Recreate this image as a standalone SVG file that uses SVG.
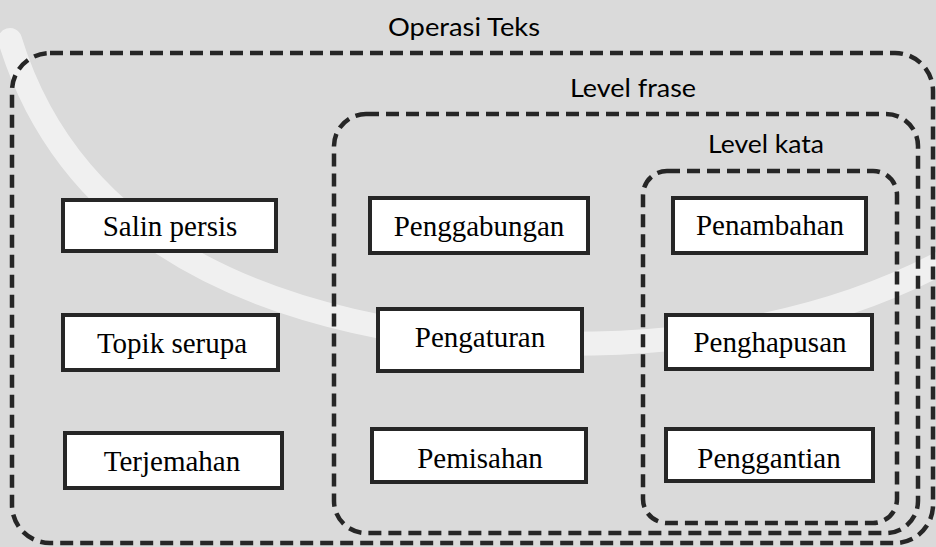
<svg xmlns="http://www.w3.org/2000/svg" width="936" height="547" viewBox="0 0 936 547">
  <style>
    .frame { fill: none; stroke: #262626; stroke-width: 4.5; stroke-dasharray: 13 7; }
    .box rect { fill: #ffffff; stroke: #262626; stroke-width: 4; }
    .box text { font-family: "Liberation Serif", "Times New Roman", serif; font-size: 29px; fill: #000000; text-anchor: middle; }
    .label { font-family: Lato, "Open Sans", "Liberation Sans", sans-serif; font-size: 25px; fill: #000000; }
    .band { fill: none; stroke: #ffffff; stroke-width: 24; stroke-linecap: round; opacity: 0.6; }
  </style>

  <!-- page background -->
  <rect x="0" y="0" width="936" height="547" fill="#dadada"/>
  <path class="band" d="M 10 40 Q 90 300 470 340 Q 760 362 950 258"/>

  <!-- nested dashed groupings -->
  <g id="connectors">
    <rect id="frame-operasi-teks" class="frame" x="12" y="53" width="921" height="490" rx="38" ry="38"/>
    <rect id="frame-level-frase" class="frame" x="334" y="114" width="584" height="419" rx="32" ry="32"/>
    <rect id="frame-level-kata" class="frame" x="643" y="171" width="254" height="352" rx="24" ry="24"/>
  </g>

  <g id="labels">
    <text id="label-operasi-teks" class="label" x="388" y="36" textLength="152" lengthAdjust="spacingAndGlyphs">Operasi Teks</text>
    <text id="label-level-frase" class="label" x="570" y="97" textLength="126" lengthAdjust="spacingAndGlyphs">Level frase</text>
    <text id="label-level-kata" class="label" x="708" y="153" textLength="116" lengthAdjust="spacingAndGlyphs">Level kata</text>
  </g>

  <!-- operations outside the phrase level -->
  <g id="salin-persis" class="box">
    <rect x="63" y="200" width="213" height="51"/>
    <text x="170" y="236">Salin persis</text>
  </g>
  <g id="topik-serupa" class="box">
    <rect x="63" y="315" width="215" height="55"/>
    <text x="172" y="353">Topik serupa</text>
  </g>
  <g id="terjemahan" class="box">
    <rect x="65" y="433" width="217" height="55"/>
    <text x="172" y="471">Terjemahan</text>
  </g>

  <!-- phrase level -->
  <g id="penggabungan" class="box">
    <rect x="370" y="198" width="218" height="55"/>
    <text x="479" y="236">Penggabungan</text>
  </g>
  <g id="pengaturan" class="box">
    <rect x="378" y="309" width="204" height="62"/>
    <text x="480" y="347">Pengaturan</text>
  </g>
  <g id="pemisahan" class="box">
    <rect x="372" y="429" width="214" height="53"/>
    <text x="480" y="468">Pemisahan</text>
  </g>

  <!-- word level -->
  <g id="penambahan" class="box">
    <rect x="673" y="198" width="193" height="55"/>
    <text x="770" y="235">Penambahan</text>
  </g>
  <g id="penghapusan" class="box">
    <rect x="666" y="315" width="206" height="54"/>
    <text x="770" y="352">Penghapusan</text>
  </g>
  <g id="penggantian" class="box">
    <rect x="666" y="429" width="207" height="52"/>
    <text x="769" y="468">Penggantian</text>
  </g>
</svg>
